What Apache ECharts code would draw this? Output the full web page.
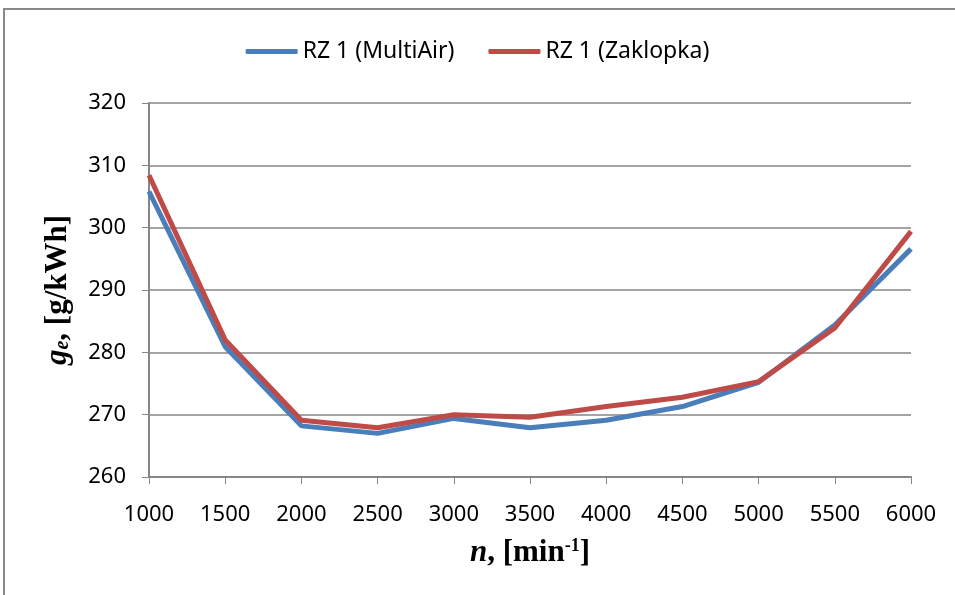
<!DOCTYPE html>
<html><head><meta charset="utf-8">
<script src="https://cdn.jsdelivr.net/npm/echarts@6/dist/echarts.min.js"></script>
<style>html,body{margin:0;padding:0;background:#fff}#c{width:955px;height:595px}</style>
</head><body><div id="c"></div>
<script>
const rpm = [1000,1500,2000,2500,3000,3500,4000,4500,5000,5500,6000];
const multiAir = [305.8,280.9,268.2,267.0,269.4,267.9,269.1,271.3,275.2,284.4,296.6];
const zaklopka = [308.4,282.0,269.1,267.9,270.0,269.6,271.3,272.8,275.3,283.9,299.4];
const seriesNames = ['RZ 1 (MultiAir)','RZ 1 (Zaklopka)'];
const yTicks = {min:260,max:320,interval:10};

const chart = echarts.init(document.getElementById('c'));
const tickFont = {fontFamily:'Noto Sans', fontSize:22, color:'#000'};
const serif = 'Liberation Serif';
chart.setOption({
  animation:false,
  graphic:[{type:'rect',shape:{x:4,y:9,width:1000,height:700},style:{fill:'none',stroke:'#888',lineWidth:2},silent:true}],
  legend:{top:35,left:'center',itemWidth:52,itemHeight:5,itemGap:34,icon:'roundRect',
    textStyle:{fontFamily:'Noto Sans',fontSize:23,color:'#000'},data:seriesNames},
  grid:{left:149,right:44,top:103,bottom:118},
  xAxis:{type:'value',min:1000,max:6000,interval:500,
    axisLine:{lineStyle:{color:'#868686',width:2}},
    axisTick:{show:true,length:7,lineStyle:{color:'#868686',width:1}},
    splitLine:{show:false},
    axisLabel:Object.assign({margin:27,formatter:v=>String(v)},tickFont),
    name:'{ni|n}{t|, [min}{sup|-1}{t|]}',nameLocation:'middle',nameGap:60,
    nameTextStyle:{rich:{
      ni:{fontFamily:serif,fontStyle:'italic',fontWeight:'bold',fontSize:31,color:'#000',verticalAlign:'bottom'},
      t:{fontFamily:serif,fontWeight:'bold',fontSize:31,color:'#000',verticalAlign:'bottom'},
      sup:{fontFamily:serif,fontWeight:'bold',fontSize:18,color:'#000',verticalAlign:'top'}
    }}
  },
  yAxis:{type:'value',min:yTicks.min,max:yTicks.max,interval:yTicks.interval,
    axisLine:{show:true,lineStyle:{color:'#868686',width:2}},
    axisTick:{show:true,length:7,lineStyle:{color:'#868686',width:1}},
    splitLine:{lineStyle:{color:'#868686',width:1.5}},
    axisLabel:Object.assign({margin:23},tickFont),
    name:'{gi|g}{sub|e}{t|, [g/kWh]}',nameLocation:'middle',nameGap:76,nameRotate:90,
    nameTextStyle:{rich:{
      gi:{fontFamily:serif,fontStyle:'italic',fontWeight:'bold',fontSize:31,color:'#000',verticalAlign:'top'},
      sub:{fontFamily:serif,fontStyle:'italic',fontWeight:'bold',fontSize:20,color:'#000',verticalAlign:'bottom'},
      t:{fontFamily:serif,fontWeight:'bold',fontSize:31,color:'#000',verticalAlign:'top'}
    }}
  },
  series:[
    {name:seriesNames[0],type:'line',data:rpm.map((x,i)=>[x,multiAir[i]]),showSymbol:false,symbol:'none',
      lineStyle:{color:'#4A7EBB',width:5},itemStyle:{color:'#4A7EBB'}},
    {name:seriesNames[1],type:'line',data:rpm.map((x,i)=>[x,zaklopka[i]]),showSymbol:false,symbol:'none',
      lineStyle:{color:'#BE4B48',width:5},itemStyle:{color:'#BE4B48'}}
  ]
});
</script></body></html>
